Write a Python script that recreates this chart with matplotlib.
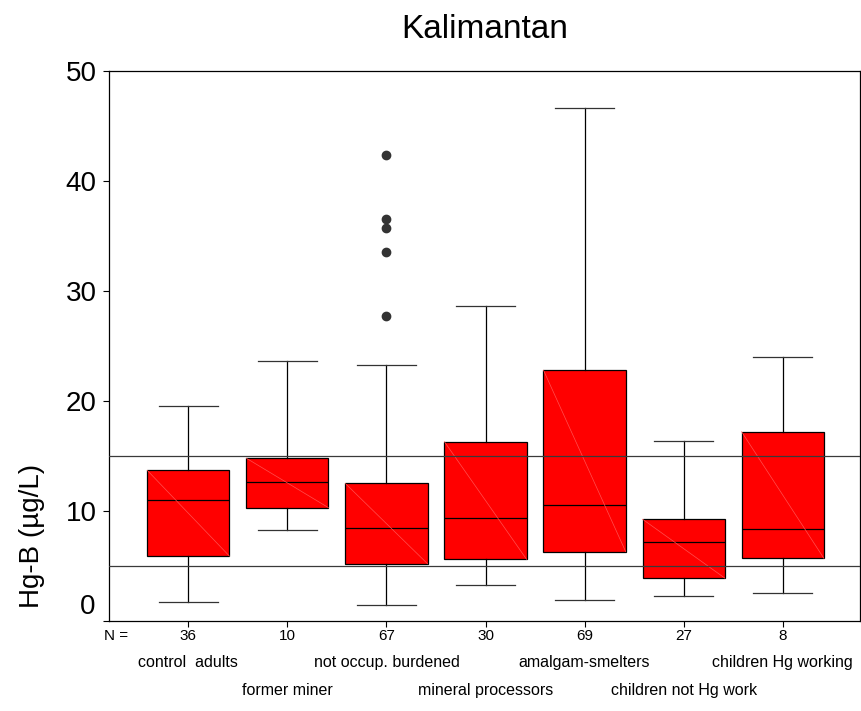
import matplotlib
matplotlib.use("Agg")
import matplotlib.pyplot as plt

plt.rcParams['font.family'] = ['Liberation Sans', 'DejaVu Sans']

# data (Hg-B in µg/L)
groups = ["control  adults", "former miner", "not occup. burdened",
          "mineral processors", "amalgam-smelters", "children not Hg work",
          "children Hg working"]
n_counts = [36, 10, 67, 30, 69, 27, 8]
q1 = [5.9, 10.3, 5.2, 5.6, 6.3, 3.9, 5.7]
medians = [11.0, 12.6, 8.45, 9.4, 10.55, 7.15, 8.4]
q3 = [13.7, 14.8, 12.5, 16.3, 22.8, 9.25, 17.2]
whis_lo = [1.7, 8.3, 1.45, 3.25, 1.95, 2.3, 2.55]
whis_hi = [19.5, 23.6, 23.3, 28.6, 46.6, 16.4, 24.0]
outliers = [[], [], [27.7, 33.5, 35.7, 36.5, 42.4], [], [], [], []]
ref_lines = [5, 15]

positions = list(range(1, len(groups) + 1))
box_w = 0.83

stats = []
for i in range(len(groups)):
    stats.append(dict(med=medians[i], q1=q1[i], q3=q3[i],
                      whislo=whis_lo[i], whishi=whis_hi[i],
                      fliers=outliers[i]))

fig = plt.figure(figsize=(8.62, 7.11), dpi=100)
ax = fig.add_axes([0.1265, 0.1266, 0.8712, 0.7736])

ax.bxp(stats, positions=positions, widths=box_w, capwidths=0.6,
       patch_artist=True, manage_ticks=False,
       boxprops=dict(facecolor='#ff0000', edgecolor='black', linewidth=0.9),
       medianprops=dict(color='black', linewidth=0.9),
       whiskerprops=dict(color='black', linewidth=0.9),
       capprops=dict(color='#333333', linewidth=0.9),
       flierprops=dict(marker='o', markerfacecolor='#333333',
                       markeredgecolor='#333333', markersize=6))

# faint diagonal inside each box
for p, lo, hi in zip(positions, q1, q3):
    ax.plot([p - box_w / 2, p + box_w / 2], [hi, lo], color='#ff5050',
            linewidth=0.5, zorder=2.5)

for v in ref_lines:
    ax.axhline(v, color='#3a3a3a', linewidth=0.9, zorder=4)

ax.set_xlim(0.2, 7.78)
ax.set_ylim(0, 50)
ax.set_yticks([0, 10, 20, 30, 40, 50])
ax.set_yticklabels(['', '10', '20', '30', '40', '50'])
ax.set_xticks(positions)
ax.set_xticklabels([])
ax.tick_params(axis='y', direction='out', length=4.5, width=0.8, pad=4.5,
               labelsize=20)
ax.tick_params(axis='x', direction='out', length=4.5, width=0.8)
for s in ax.spines.values():
    s.set_linewidth(0.9)

# SPSS puts the zero label a bit above the axis corner
ax.annotate('0', xy=(0, 0), xycoords=('axes fraction', 'data'),
            xytext=(-9.5, 10), textcoords='offset points',
            ha='right', va='center', fontsize=20)

ax.set_ylabel('Hg-B (µg/L)', fontsize=20)
ax.yaxis.set_label_coords(-0.085, 0.155)

ax.set_title('Kalimantan', fontsize=24, pad=24)

ax.annotate('N =', xy=(0.01, 0), xycoords='axes fraction',
            xytext=(0, -11), textcoords='offset points',
            ha='center', va='center', fontsize=11)
for i, p in enumerate(positions):
    ax.annotate(str(n_counts[i]), xy=(p, 0), xycoords=('data', 'axes fraction'),
                xytext=(0, -11), textcoords='offset points',
                ha='center', va='center', fontsize=11)
    row = -30 if i % 2 == 0 else -50
    ax.annotate(groups[i], xy=(p, 0), xycoords=('data', 'axes fraction'),
                xytext=(0, row), textcoords='offset points',
                ha='center', va='center', fontsize=11.5)

fig.savefig('out.png', dpi=100)
